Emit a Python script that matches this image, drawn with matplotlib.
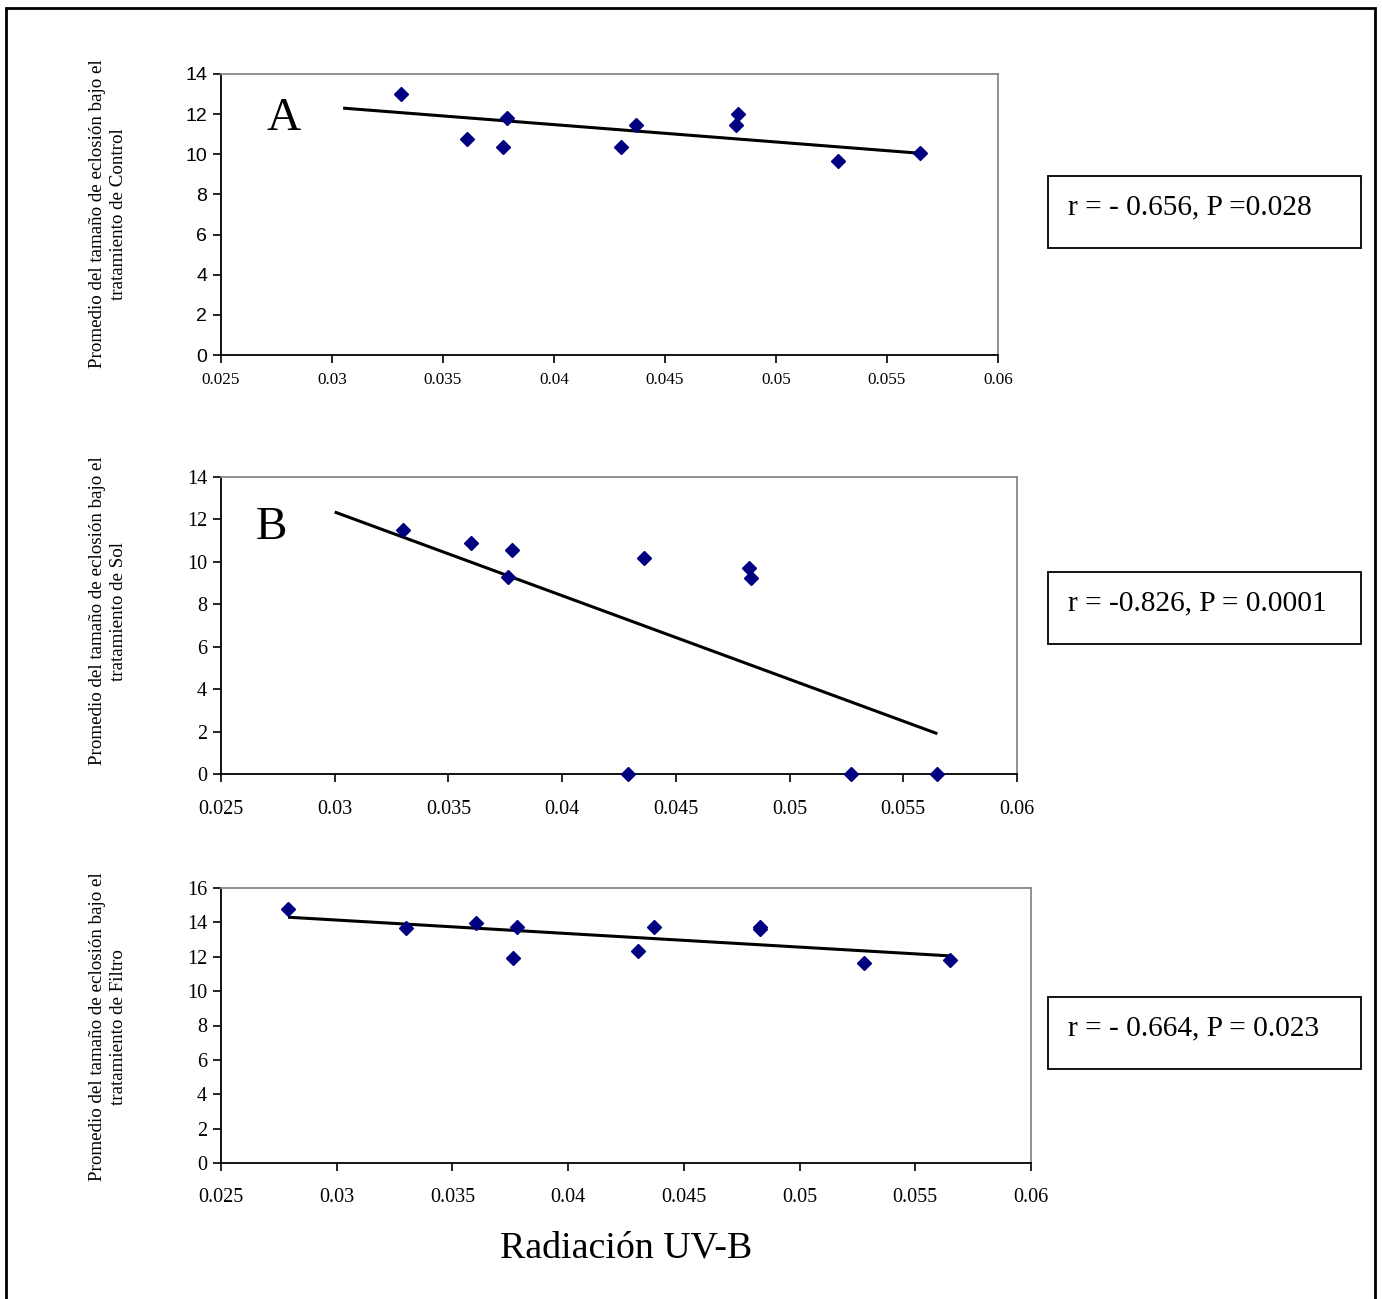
import numpy as np
import matplotlib.pyplot as plt
from matplotlib.patches import Rectangle

# ---- data ----
x_ctrl = [0.0331, 0.0361, 0.0377, 0.0379, 0.0430, 0.0437, 0.0483, 0.0482, 0.0528, 0.0565]
y_ctrl = [13.0, 10.75, 10.35, 11.8, 10.35, 11.45, 12.0, 11.45, 9.65, 10.05]
trend_ctrl_x = [0.0305, 0.0565]
trend_ctrl_y = [12.3, 10.05]

x_sol = [0.0330, 0.0360, 0.0378, 0.0376, 0.0436, 0.0482, 0.0483, 0.0429, 0.0527, 0.0565]
y_sol = [11.5, 10.9, 10.55, 9.3, 10.2, 9.7, 9.25, 0.0, 0.0, 0.0]
trend_sol_x = [0.0300, 0.0565]
trend_sol_y = [12.35, 1.9]

x_fil = [0.0279, 0.0330, 0.0360, 0.0378, 0.0376, 0.0430, 0.0437, 0.0483, 0.0483, 0.0528, 0.0565]
y_fil = [14.75, 13.65, 13.95, 13.75, 11.95, 12.35, 13.75, 13.75, 13.6, 11.65, 11.8]
trend_fil_x = [0.0279, 0.0565]
trend_fil_y = [14.3, 12.05]

xticks = [0.025, 0.03, 0.035, 0.04, 0.045, 0.05, 0.055, 0.06]
xtick_labels = ["0.025", "0.03", "0.035", "0.04", "0.045", "0.05", "0.055", "0.06"]

ylabels = [
    "Promedio del tamaño de eclosión bajo el\ntratamiento de Control",
    "Promedio del tamaño de eclosión bajo el\ntratamiento de Sol",
    "Promedio del tamaño de eclosión bajo el\ntratamiento de Filtro",
]
stats = ["r = - 0.656, P =0.028", "r = -0.826, P = 0.0001", "r = - 0.664, P = 0.023"]
letters = ["A", "B", None]

SERIF = "Liberation Serif"
SANS = "Liberation Sans"

W, H = 1382, 1299
fig = plt.figure(figsize=(W / 100, H / 100), dpi=100, facecolor="white")

def px_axes(l, r, t, b):
    return [l / W, 1 - b / H, (r - l) / W, (b - t) / H]

panels = [
    dict(pos=px_axes(221, 998, 74, 355), x=x_ctrl, y=y_ctrl, tx=trend_ctrl_x, ty=trend_ctrl_y,
         ymax=14, yfont=SANS, ysize=14, xsize=12.3, xpad=6, lab_y=214, box=(176, 248),
         letter_xy=(0.058, 0.84)),
    dict(pos=px_axes(221, 1017, 477, 774), x=x_sol, y=y_sol, tx=trend_sol_x, ty=trend_sol_y,
         ymax=14, yfont=SERIF, ysize=14.5, xsize=14.5, xpad=13, lab_y=611, box=(572, 644),
         letter_xy=(0.043, 0.83)),
    dict(pos=px_axes(221, 1031, 888, 1163), x=x_fil, y=y_fil, tx=trend_fil_x, ty=trend_fil_y,
         ymax=16, yfont=SERIF, ysize=14.5, xsize=14.5, xpad=12, lab_y=1027, box=(997, 1069),
         letter_xy=None),
]

for i, p in enumerate(panels):
    ax = fig.add_axes(p["pos"])
    ax.plot(p["tx"], p["ty"], color="black", lw=2.2, solid_capstyle="butt", zorder=2)
    ax.plot(p["x"], p["y"], linestyle="none", marker="D", markersize=7,
            color="#000080", clip_on=False, zorder=3)
    ax.set_xlim(0.025, 0.06)
    ax.set_ylim(0, p["ymax"])
    ax.set_xticks(xticks)
    ax.set_xticklabels(xtick_labels, fontfamily=SERIF, fontsize=p["xsize"])
    ax.set_yticks(np.arange(0, p["ymax"] + 1, 2))
    for lab in ax.get_yticklabels():
        lab.set_fontfamily(p["yfont"])
        lab.set_fontsize(p["ysize"])
    ax.tick_params(axis="both", direction="out", length=6, width=1.2, color="black")
    ax.tick_params(axis="x", pad=p["xpad"])
    ax.tick_params(axis="y", pad=4)
    for s in ["left", "bottom"]:
        ax.spines[s].set_color("black")
        ax.spines[s].set_linewidth(1.3)
    for s in ["top", "right"]:
        ax.spines[s].set_color("#888888")
        ax.spines[s].set_linewidth(1.3)
    if letters[i]:
        ax.text(p["letter_xy"][0], p["letter_xy"][1], letters[i], transform=ax.transAxes,
                fontfamily=SERIF, fontsize=34, ha="left", va="center")

    # rotated two-line y label
    fig.text(108 / W, 1 - p["lab_y"] / H, ylabels[i], rotation=90, ha="center", va="center",
             multialignment="center", fontfamily=SERIF, fontsize=13.7, linespacing=1.35)

    # stats box
    bt, bb = p["box"]
    fig.patches.append(Rectangle((1048 / W, 1 - bb / H), (1361 - 1048) / W, (bb - bt) / H,
                                 transform=fig.transFigure, fill=False, edgecolor="black", lw=1.3))
    fig.text(1068 / W, 1 - ((bt + bb) / 2 - 5) / H, stats[i], ha="left", va="center",
             fontfamily=SERIF, fontsize=21.2)

fig.text(626 / W, 1 - 1248 / H, "Radiación UV-B", ha="center", va="center",
         fontfamily=SERIF, fontsize=27.3)

# outer frame (bottom edge lies outside the image)
fig.patches.append(Rectangle((6 / W, -0.05), (1375 - 6) / W, 1.05 - 8 / H,
                             transform=fig.transFigure, fill=False, edgecolor="black", lw=2))

fig.savefig("out.png", dpi=100, facecolor="white")
